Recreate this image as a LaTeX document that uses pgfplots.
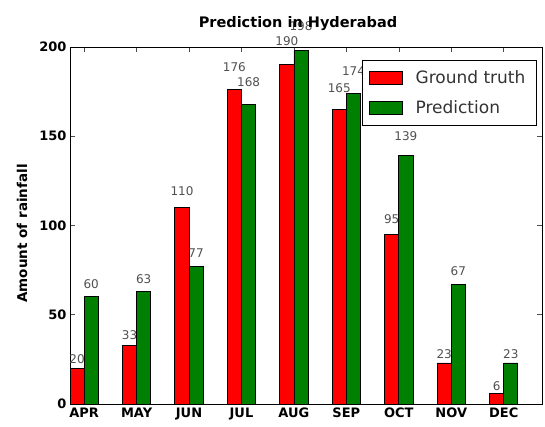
\documentclass[border=0pt]{standalone}
\usepackage{fontspec}
\setmainfont{DejaVu Sans}
\usepackage{pgfplots}
\pgfplotsset{compat=1.18}
\usepackage{pgfplotstable}

% Monthly rainfall: observed vs. predicted
\pgfplotstableread{
x month truth pred
0 APR 20  60
1 MAY 33  63
2 JUN 110 77
3 JUL 176 168
4 AUG 190 198
5 SEP 165 174
6 OCT 95  139
7 NOV 23  67
8 DEC 6   23
}\rainfall

\definecolor{truthred}{RGB}{255,0,0}
\definecolor{predgreen}{RGB}{0,128,0}
\definecolor{labelgray}{RGB}{80,80,80}

\begin{document}
\begin{tikzpicture}
\path[use as bounding box] (-70pt,-23pt) rectangle (475pt,404pt);
\begin{axis}[
  at={(0pt,0pt)}, anchor=south west,
  scale only axis, width=472pt, height=357pt,
  xmin=-0.27, xmax=8.73, ymin=0, ymax=200,
  ybar=0pt, bar width=0.27,
  xtick={0,...,8},
  xticklabels={APR,MAY,JUN,JUL,AUG,SEP,OCT,NOV,DEC},
  ytick={0,50,100,150,200},
  xtick pos=both, ytick pos=both,
  xticklabel pos=lower, yticklabel pos=left,
  tick align=inside, major tick length=5pt,
  tick style={black!70, line width=0.6pt},
  axis line style={black, line width=0.8pt},
  /pgf/number format/assume math mode=true,
  tick label style={font=\bfseries\fontsize{13}{15}\selectfont},
  title={Prediction in Hyderabad},
  every axis title/.style={at={(axis description cs:0.483,1.0532)}, anchor=base,
    font=\bfseries\fontsize{14.5}{17}\selectfont, inner sep=0pt},
  ylabel={Amount of rainfall},
  every axis y label/.style={at={(axis description cs:-0.1017,0.4776)}, anchor=center,
    rotate=90, font=\bfseries\fontsize{13.5}{16}\selectfont},
  clip=false,
  visualization depends on={rawy \as \rawyval},
  nodes near coords,
  nodes near coords style={anchor=south, inner sep=0pt,
    yshift={\rawyval*0.08925pt+2pt},
    font=\fontsize{12}{14}\selectfont, text=labelgray},
  every axis plot/.append style={draw=black, line width=0.8pt},
  legend image code/.code={\draw[#1,draw=black,line width=0.8pt] (0pt,-6.5pt) rectangle (33pt,6.5pt);},
  legend cell align=left,
  legend style={at={(0.989,0.9636)}, anchor=north east, draw=black, line width=0.8pt,
    font=\fontsize{17}{20}\selectfont, text=black!80,
    inner xsep=6pt, inner ysep=8pt, row sep=12pt,
    nodes={inner xsep=5pt},
    /tikz/every odd column/.append style={column sep=8pt}},
]
\addplot[fill=truthred] table[x=x, y=truth] {\rainfall};
\addlegendentry{Ground truth}
\addplot[fill=predgreen] table[x=x, y=pred] {\rainfall};
\addlegendentry{Prediction}
\end{axis}
\end{tikzpicture}
\end{document}
